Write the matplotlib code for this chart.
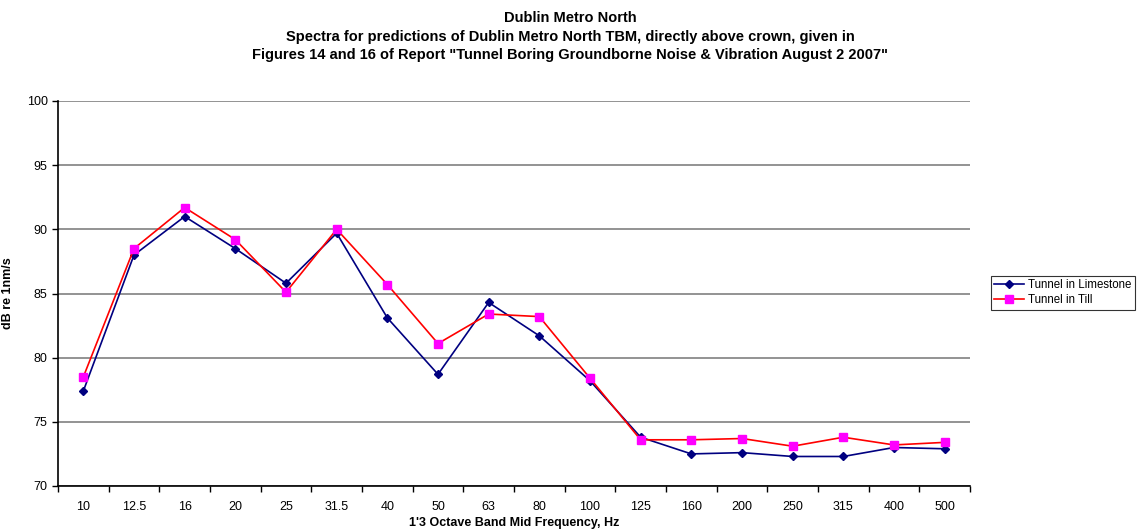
import matplotlib
matplotlib.use("Agg")
import matplotlib.pyplot as plt
import numpy as np

plt.rcParams['font.family'] = ['Liberation Sans', 'DejaVu Sans']

freqs = ["10", "12.5", "16", "20", "25", "31.5", "40", "50", "63", "80",
         "100", "125", "160", "200", "250", "315", "400", "500"]
limestone = [77.4, 88.0, 91.0, 88.5, 85.8, 89.7, 83.1, 78.7, 84.3, 81.7,
             78.2, 73.8, 72.5, 72.6, 72.3, 72.3, 73.0, 72.9]
till = [78.5, 88.5, 91.7, 89.2, 85.1, 90.0, 85.7, 81.1, 83.4, 83.2,
        78.4, 73.6, 73.6, 73.7, 73.1, 73.8, 73.2, 73.4]

fig = plt.figure(figsize=(11.4, 5.32), dpi=100)
ax = fig.add_axes([58/1140, 46/532, (970-58)/1140, (486-101)/532])

x = np.arange(len(freqs))
ax.plot(x, limestone, color='#000080', lw=1.2, marker='D', ms=4.5,
        mfc='#000080', mec='#000080', label='Tunnel in Limestone')
ax.plot(x, till, color='#FF0000', lw=1.2, marker='s', ms=5.5,
        mfc='#FF00FF', mec='#FF00FF', label='Tunnel in Till')

ax.set_xlim(-0.5, len(freqs) - 0.5)
ax.set_ylim(70, 100)
ax.set_yticks(np.arange(70, 101, 5))
ax.yaxis.grid(True, color='#808080', lw=1.2)
ax.set_axisbelow(True)
ax.set_xticks(x)
ax.set_xticklabels(freqs)
ax.set_xticks(np.arange(-0.5, len(freqs), 1), minor=True)
ax.tick_params(axis='x', which='major', length=0, labelsize=9, pad=11)
ax.tick_params(axis='x', which='minor', length=4, direction='out', width=1)
ax.tick_params(axis='y', length=4, labelsize=9, width=1)
for s in ['top', 'right']:
    ax.spines[s].set_visible(False)
for s in ['left', 'bottom']:
    ax.spines[s].set_linewidth(1.2)

ax.set_xlabel("1'3 Octave Band Mid Frequency, Hz", fontsize=9, fontweight='bold', labelpad=3)
ax.set_ylabel("dB re 1nm/s", fontsize=9, fontweight='bold')
ax.yaxis.set_label_coords(-44/912, 0.5)

fig.text(0.5, 1 - 11/532, "Dublin Metro North\nSpectra for predictions of Dublin Metro North TBM, directly above crown, given in\n"
         "Figures 14 and 16 of Report \"Tunnel Boring Groundborne Noise & Vibration August 2 2007\"",
         ha='center', va='top', fontsize=10.5, fontweight='bold', linespacing=1.42)

leg = fig.legend(loc='upper left', bbox_to_anchor=(991/1140, 1 - 276/532), fontsize=8.3,
                 frameon=True, fancybox=False, edgecolor='black', handlelength=2.6,
                 borderpad=0.3, labelspacing=0.25, handletextpad=0.35, borderaxespad=0)
leg.get_frame().set_linewidth(0.8)

fig.savefig("out.png", dpi=100)
